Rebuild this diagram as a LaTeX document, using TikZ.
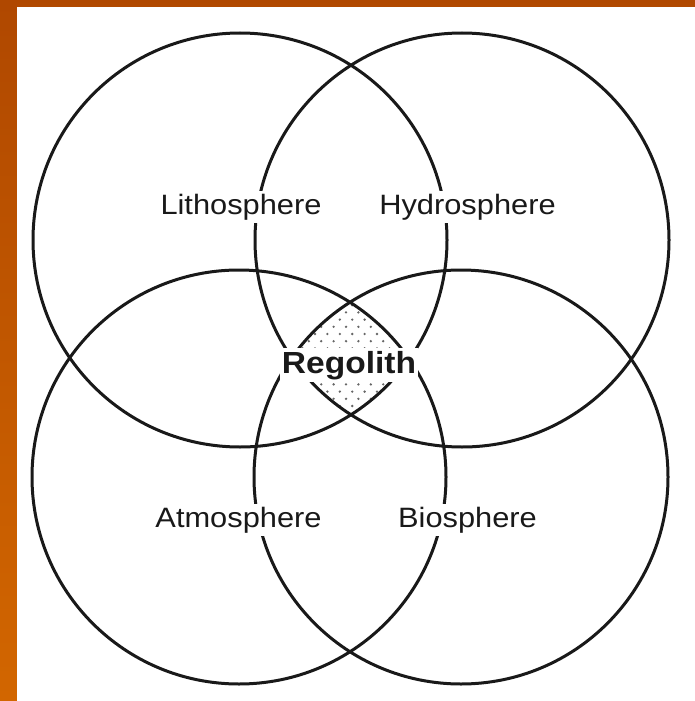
\documentclass[tikz,border=0pt]{standalone}
\usepackage{fontspec}
\newfontfamily\labfont[FakeStretch=1.1]{Liberation Sans}
\definecolor{bordertop}{RGB}{176,72,0}
\definecolor{borderbot}{RGB}{210,102,0}
\tikzset{
  sphere/.style={draw=black!90, line width=3pt},
  lab/.style={anchor=base, fill=white, inner sep=3pt, text=black!90, font=\labfont\fontsize{28}{30}\selectfont},
  core/.style={anchor=base, fill=white, inner xsep=2pt, inner ysep=3pt, text=black!90, font=\labfont\bfseries\fontsize{30.5}{32}\selectfont},
  dot/.style={fill=black!60}
}
\begin{document}
\begin{tikzpicture}[x=1pt,y=-1pt]
\useasboundingbox (0,0) rectangle (694,701);
% frame
\shade[top color=bordertop, bottom color=borderbot] (0,0) rectangle (17,701);
\shade[top color=bordertop, bottom color=bordertop!95!borderbot] (17,0) rectangle (700,7.5);
\fill[white] (17,7) rectangle (710,710);
% centres
\coordinate (tl) at (240,240);
\coordinate (tr) at (462,240);
\coordinate (bl) at (239,477);
\coordinate (br) at (461,477);
% dotted common region
\begin{scope}
  \clip (tl) circle[radius=207pt];
  \clip (tr) circle[radius=207pt];
  \clip (bl) circle[radius=207pt];
  \clip (br) circle[radius=207pt];
  \foreach \r in {0,...,17}{
    \pgfmathsetmacro{\yy}{298+7.2*\r}
    \pgfmathsetmacro{\off}{mod(\r,2)*6.2}
    \foreach \c in {0,...,11}{
      \fill[dot] ({284+\off+12.4*\c},\yy) circle[radius=1.3pt];
    }
  }
\end{scope}
% circles
\draw[sphere] (tl) circle[radius=207pt];
\draw[sphere] (tr) circle[radius=207pt];
\draw[sphere] (bl) circle[radius=207pt];
\draw[sphere] (br) circle[radius=207pt];
% labels
\node[lab] (litho) at (241,214) {Lithosphere};
\node[lab] (hydro) at (467.5,214) {Hydrosphere};
\node[lab] (atmo) at (238.5,527) {Atmosphere};
\node[lab] (bio) at (467.5,527) {Biosphere};
\node[core] (rego) at (349,373) {Regolith};
\end{tikzpicture}
\end{document}
